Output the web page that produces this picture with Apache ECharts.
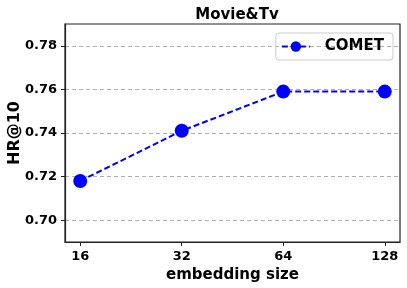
<!DOCTYPE html>
<html><head><meta charset="utf-8">
<script src="https://cdn.jsdelivr.net/npm/echarts@6/dist/echarts.min.js"></script>
<style>html,body{margin:0;padding:0;background:#fff}#c{width:407px;height:288px}</style>
</head><body><div id="c"></div>
<script>
const categories = ['16', '32', '64', '128'];
const cometValues = [0.718, 0.741, 0.759, 0.759];
const yTicks = [0.70, 0.72, 0.74, 0.76, 0.78];

const chart = echarts.init(document.getElementById('c'), null, {renderer: 'canvas'});
const FONT = 'DejaVu Sans';
chart.setOption({
  animation: false,
  title: {text: 'Movie&Tv', left: 232, top: 3, textAlign: 'center',
    textStyle: {fontFamily: FONT, fontWeight: 'bold', fontSize: 15, color: '#000'}},
  grid: {left: 65, right: 7, top: 24, bottom: 46, outerBoundsMode: 'none', containLabel: false,
    show: true, borderColor: '#222', borderWidth: 1.2, backgroundColor: 'transparent'},
  legend: {right: 14, top: 33, itemWidth: 28, itemHeight: 13, itemGap: 6,
    padding: [6, 9, 6, 5], borderColor: '#ccc', borderWidth: 1, borderRadius: 3,
    textStyle: {fontFamily: FONT, fontWeight: 'bold', fontSize: 15, color: '#000', padding: [0,0,0,10]},
    data: ['COMET']},
  xAxis: {type: 'value', min: -0.15, max: 3.15,
    name: 'embedding size', nameLocation: 'middle', nameGap: 26, nameMoveOverlap: false,
    nameTextStyle: {fontFamily: FONT, fontWeight: 'bold', fontSize: 15, color: '#000'},
    axisLine: {show: true, onZero: false, lineStyle: {color: '#222', width: 1.2}},
    axisTick: {show: true, customValues: [0,1,2,3], length: 4, lineStyle: {color: '#222'}},
    axisLabel: {customValues: [0,1,2,3], formatter: v => categories[Math.round(v)], margin: 8,
      fontFamily: FONT, fontWeight: 'bold', fontSize: 13, color: '#000'},
    splitLine: {show: false}},
  yAxis: {type: 'value', min: 0.69, max: 0.79,
    name: 'HR@10', nameLocation: 'middle', nameGap: 42, nameMoveOverlap: false,
    nameTextStyle: {fontFamily: FONT, fontWeight: 'bold', fontSize: 16, color: '#000'},
    axisLine: {show: true, onZero: false, lineStyle: {color: '#222', width: 1.2}},
    axisTick: {show: true, customValues: yTicks, length: 4, lineStyle: {color: '#222'}},
    axisLabel: {customValues: yTicks, formatter: v => v.toFixed(2), margin: 8,
      fontFamily: FONT, fontWeight: 'bold', fontSize: 13, color: '#000'},
    splitLine: {show: true, lineStyle: {color: '#b0b0b0', type: [4, 3], width: 1}}},
  series: [{name: 'COMET', type: 'line',
    data: cometValues.map((v, i) => [i, v]),
    symbol: 'circle', symbolSize: 14,
    itemStyle: {color: '#0000ff'},
    lineStyle: {color: '#0000ff', width: 2, type: [6, 3]}}]
});
</script></body></html>
